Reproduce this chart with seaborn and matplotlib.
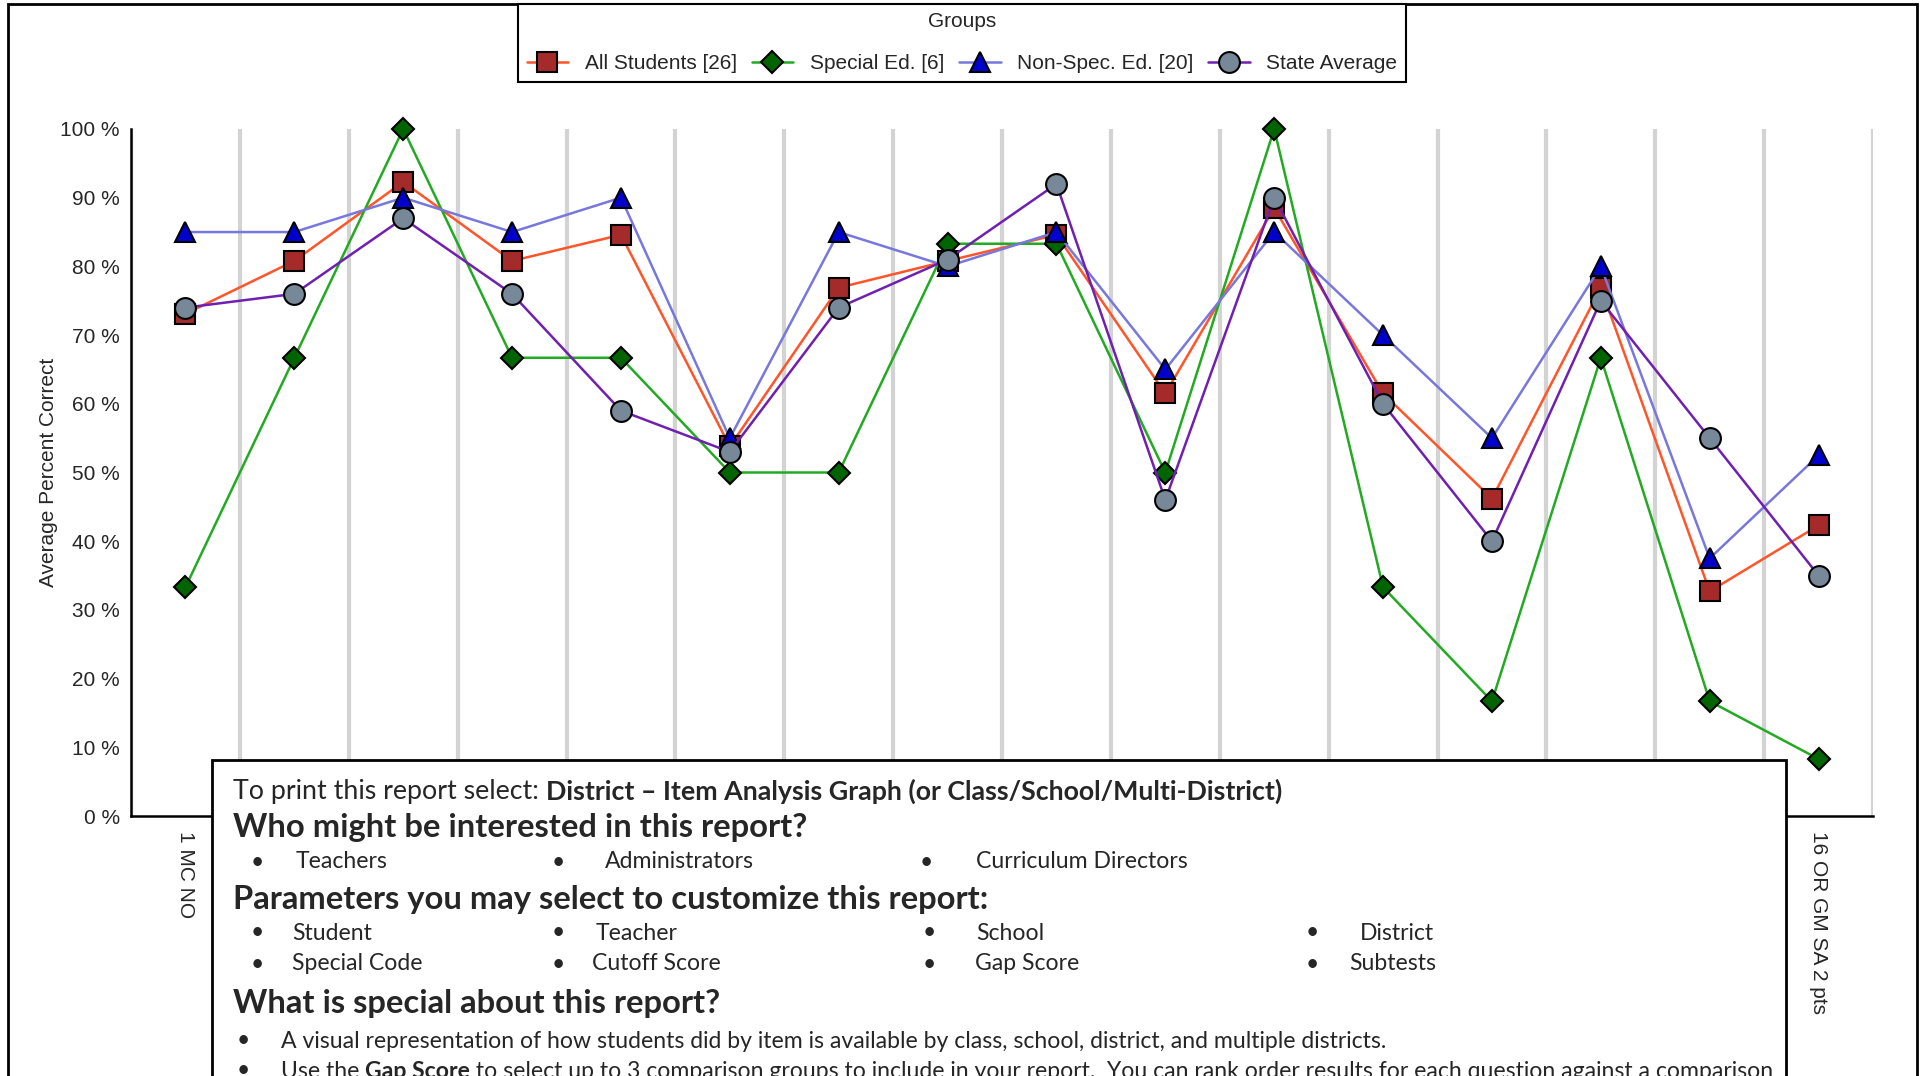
import numpy as np
import pandas as pd
import matplotlib
matplotlib.use('Agg')
import matplotlib.pyplot as plt
import seaborn as sns
from matplotlib.patches import Rectangle

# Items (question numbers) and labels; the middle labels sit under the info box
items = list(range(1, 17))
item_labels = ['1 MC NO'] + [''] * 14 + ['16 OR GM SA 2 pts']

# Average percent correct per group
all_students = [73.1, 80.8, 92.3, 80.8, 84.6, 53.8, 76.9, 80.8, 84.6, 61.5, 88.5, 61.5, 46.2, 76.9, 32.7, 42.3]
special_ed = [33.3, 66.7, 100, 66.7, 66.7, 50, 50, 83.3, 83.3, 50, 100, 33.3, 16.7, 66.7, 16.7, 8.3]
non_spec_ed = [85, 85, 90, 85, 90, 55, 85, 80, 85, 65, 85, 70, 55, 80, 37.5, 52.5]
state_avg = [74, 76, 87, 76, 59, 53, 74, 81, 92, 46, 90, 60, 40, 75, 55, 35]

group_names = ['All Students [26]', 'Special Ed. [6]', 'Non-Spec. Ed. [20]', 'State Average']
y_ticks = [0, 10, 20, 30, 40, 50, 60, 70, 80, 90, 100]
y_tick_labels = ['0 %', '10 %', '20 %', '30 %', '40 %', '50 %', '60 %', '70 %', '80 %', '90 %', '100 %']

# style per group: line colour, marker, marker face, marker size
styles = [
    ('#FF5528', 's', '#A52A2A', 14),
    ('#22AA22', 'D', '#006400', 11),
    ('#7777DD', '^', '#0000CD', 15),
    ('#7020B0', 'o', '#778899', 15),
]

W_PX, H_PX = 1923, 1076
sns.set_style('white')
plt.rcParams['font.family'] = ['Liberation Sans', 'DejaVu Sans']
BOX_FONT = ['Lato', 'DejaVu Sans']

fig = plt.figure(figsize=(W_PX / 100, H_PX / 100), dpi=100)


def px(x, y):
    return x / W_PX, 1 - y / H_PX


ax = fig.add_axes([131 / W_PX, 1 - 816 / H_PX, (1873 - 131) / W_PX, (816 - 129) / H_PX])

for name, vals, (lc, mk, fc, ms) in zip(group_names, [all_students, special_ed, non_spec_ed, state_avg], styles):
    df = pd.DataFrame({'item': items, 'pct': vals})
    sns.lineplot(data=df, x='item', y='pct', ax=ax, estimator=None, color=lc, linewidth=1.8,
                 marker=mk, markersize=ms, markerfacecolor=fc, markeredgecolor='black',
                 markeredgewidth=1.5, label=name, clip_on=False)

if ax.get_legend() is not None:
    ax.get_legend().remove()

ax.set_xlim(0.5, 16.5)
ax.set_ylim(0, 100)
ax.set_yticks(y_ticks)
ax.set_yticklabels(y_tick_labels, fontsize=15)
ax.set_xticks(items)
ax.set_xticklabels(item_labels, rotation=270, fontsize=15, ha='center', va='top')
ax.set_xticks(np.arange(0.5, 17, 1), minor=True)
ax.tick_params(axis='x', which='major', length=0, pad=11)
ax.tick_params(axis='x', which='minor', length=8, width=1.5, color='black', direction='out')
ax.tick_params(axis='y', length=0, pad=8)
ax.grid(False)
ax.grid(True, which='minor', axis='x', color='#D3D3D3', linewidth=3)
ax.set_axisbelow(True)
ax.set_xlabel('')
ax.set_ylabel('Average Percent Correct', fontsize=15)
ax.yaxis.set_label_coords(-0.042, 0.5)
for side in ['top', 'right']:
    ax.spines[side].set_visible(False)
for side in ['left', 'bottom']:
    ax.spines[side].set_color('black')
    ax.spines[side].set_linewidth(1.8)

handles, labels = ax.get_legend_handles_labels()
leg = fig.legend(handles, labels, loc='upper center', bbox_to_anchor=px(962, 4), ncol=4,
                 title='Groups', frameon=True, fancybox=False, edgecolor='black', framealpha=1,
                 fontsize=15, title_fontsize=15, handlelength=2, handletextpad=0.8,
                 columnspacing=0.7, borderpad=0.4, labelspacing=1.1, borderaxespad=0)
leg.get_frame().set_linewidth(1.5)

# outer page frame
fig.patches.append(Rectangle(px(8, 1200), (1917 - 8) / W_PX, (1200 - 4) / H_PX,
                             transform=fig.transFigure, fill=False, edgecolor='black',
                             linewidth=2, zorder=1))
# info box
fig.patches.append(Rectangle(px(212, 1200), (1786 - 212) / W_PX, (1200 - 760) / H_PX,
                             transform=fig.transFigure, facecolor='white', edgecolor='black',
                             linewidth=2, zorder=4))

renderer = fig.canvas.get_renderer()


def measure(runs, size):
    w = 0
    for txt, weight in runs:
        t = fig.text(0, 0, txt, fontsize=size, fontweight=weight, family=BOX_FONT)
        w += t.get_window_extent(renderer).width
        t.remove()
    return w


def fit(runs, target):
    return 10 * target / measure(runs, 10)


def put(x, y, runs, size):
    for txt, weight in runs:
        t = fig.text(*px(x, y), txt, fontsize=size, fontweight=weight, family=BOX_FONT,
                     va='center', ha='left', zorder=6)
        x += t.get_window_extent(renderer).width
    return x


line1 = [('To print this report select: ', 'normal'),
         ('District – Item Analysis Graph (or Class/School/Multi-District)', 'bold')]
head1 = [('Who might be interested in this report?', 'bold')]
head2 = [('Parameters you may select to customize this report:', 'bold')]
head3 = [('What is special about this report?', 'bold')]
bullet_a = [('A visual representation of how students did by item is available by class, school, district, and multiple districts.', 'normal')]
bullet_b = [('Use the ', 'normal'), ('Gap Score', 'bold'),
            (' to select up to 3 comparison groups to include in your report.  You can rank order results for each question against a comparison', 'normal')]

s_line1 = fit(line1, 1052)
s_head = fit(head1, 576)
s_body = fit(bullet_a, 1106)

put(233, 791, line1, s_line1)
put(233, 828, head1, s_head)
put(233, 899, head2, s_head)
put(233, 1003, head3, s_head)

who_row = [(251, 296, 'Teachers'), (552, 605, 'Administrators'), (920, 976, 'Curriculum Directors')]
param_row1 = [(251, 292, 'Student'), (552, 596, 'Teacher'), (923, 976, 'School'), (1306, 1360, 'District')]
param_row2 = [(251, 292, 'Special Code'), (552, 592, 'Cutoff Score'), (923, 975, 'Gap Score'), (1306, 1349, 'Subtests')]
for y, row in [(862, who_row), (933, param_row1), (964, param_row2)]:
    for bx, tx, txt in row:
        put(bx, y, [('•', 'normal')], s_body)
        put(tx, y, [(txt, 'normal')], s_body)

put(237, 1041, [('•', 'normal')], s_body)
put(281, 1041, bullet_a, s_body)
put(237, 1071, [('•', 'normal')], s_body)
put(281, 1071, bullet_b, s_body)

fig.savefig('out.png', dpi=100)
